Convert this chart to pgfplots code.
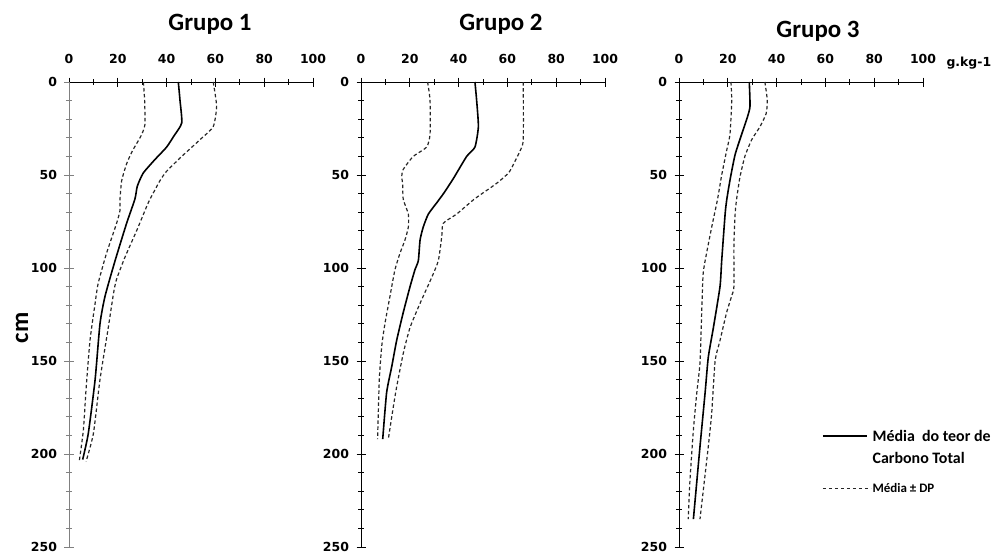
\documentclass[border=0pt]{standalone}
\usepackage{pgfplots}
\pgfplotsset{compat=1.18}
\usepackage{fontspec}
\setmainfont{DejaVu Sans}
\newfontfamily\calib{Carlito}

% data: depth (cm) vs carbon (g/kg)
\pgfplotstableread{
v d
30.5 0
31 10
31.1 23
29.5 29
26 37
23.6 44
21.6 53
20.9 63
20.9 69
19.5 76
15.4 92
12 108
10.7 119
8.6 139
7 165
5.9 187
4.2 204
}\loA
\pgfplotstableread{
v d
44.8 0
45.5 10
46.2 22
43 29
40 35
35 42
30.4 49
28 56
27 63
23.6 76
18.9 96
14.8 115
12.7 130
10.7 160
7.9 189
5.6 203
}\meA
\pgfplotstableread{
v d
59.1 0
60.5 13
59.1 24
53.7 31
46.2 40
40 48
37.3 53
33.2 63
31.8 67
27.7 80
23 94
19.5 106
18.2 114
16.1 132
12.7 160
10 189
7 204
}\hiA
\pgfplotstableread{
v d
27.3 0
28.3 10
28.3 28
26.9 35
21.4 40
17.3 47
16.7 51
17.1 55
17.3 63
19.4 71
19.4 78
18 85
16 92
13.9 101
11.9 115
9.8 130
8.5 142
7.5 160
6.8 192
}\loB
\pgfplotstableread{
v d
46.7 0
47.4 10
48.1 24
46.7 35
43.3 40
37.8 52
33.8 60
31 65
27.6 71
25.5 78
24.2 85
23.5 96
22.1 101
20.1 110
17.3 124
14.6 139
12.6 153
10.5 167
8.9 192
}\meB
\pgfplotstableread{
v d
66.5 0
66.5 31
65.2 37
61.8 46
60.4 49
57 53
54 56
46.4 63
39.2 71
33.7 76
33.1 83
31.7 96
29 105
24.2 119
20.1 132
17.3 146
14.6 164
13.2 175
11.2 192
}\hiB
\pgfplotstableread{
v d
21.3 0
21.6 10
20.9 28
19.5 37
17.5 50
15.8 63
13.4 78
11.3 92
9.9 103
9.3 124
8.6 151
7.3 167
5.9 187
4.5 214
3.8 235
}\loC
\pgfplotstableread{
v d
28.8 0
29.1 13
28 19
25.7 28
23 39
21 52
19.6 63
18.9 71
17.5 96
16.8 110
14.1 132
12 148
10.7 167
8.6 196
5.9 235
}\meC
\pgfplotstableread{
v d
35.2 0
36.2 10
35.7 17
33.2 24
29.8 31
27 40
25 51
23.6 63
23 71
22.5 88
22.5 110
21.6 115
19.5 124
16.8 139
14.8 150
13.4 178
12 196
8.6 235
}\hiC

\pgfplotsset{
  perfil/.style={
    scale only axis, width=244bp, height=465bp,
    xmin=0, xmax=100, ymin=0, ymax=250, y dir=reverse,
    axis x line*=top, axis y line*=left,
    xtick={0,20,...,100}, minor x tick num=1,
    ytick={0,50,...,250}, minor y tick num=4,
    tick align=center, major tick length=9bp, minor tick length=6bp,
    tick style={black, line width=0.8bp},
    axis line style={line width=0.9bp},
    ticklabel style={font=\fontsize{12.5}{14}\selectfont\bfseries},
    /pgf/number format/assume math mode=true,
    xticklabel style={yshift=10bp},
    yticklabel style={xshift=-4bp},
    clip=false,
  },
  media/.style={black, line width=1.6bp, smooth, tension=0.35},
  dp/.style={black!85, line width=1.2bp, dash pattern=on 3.5bp off 2.5bp, smooth, tension=0.35},
  legmedia/.style={legend image code/.code={\draw[##1] (0bp,4bp) -- (44bp,4bp);}},
  legdp/.style={legend image code/.code={\draw[##1] (0bp,0bp) -- (48bp,0bp);}},
}

\begin{document}
\begin{tikzpicture}
\useasboundingbox (0,0) rectangle (996bp,-552bp);

\begin{axis}[perfil, at={(69bp,-82bp)}, anchor=north west,
  y axis line style={gray, line width=1bp},
  ytick style={gray, line width=1bp}]
\addplot[dp] table[x=v, y=d] {\loA};
\addplot[media] table[x=v, y=d] {\meA};
\addplot[dp] table[x=v, y=d] {\hiA};
\end{axis}

\begin{axis}[perfil, at={(361bp,-82bp)}, anchor=north west]
\addplot[dp] table[x=v, y=d] {\loB};
\addplot[media] table[x=v, y=d] {\meB};
\addplot[dp] table[x=v, y=d] {\hiB};
\end{axis}

\begin{axis}[perfil, at={(679bp,-82bp)}, anchor=north west,
  legend style={at={(axis description cs:0.586,0.262)}, anchor=north west,
    draw=none, fill=none, inner sep=0pt, row sep=27bp,
    nodes={inner sep=1bp, font=\calib\bfseries}},
  legend cell align=left]
\addplot[media, legmedia] table[x=v, y=d] {\meC};
\addlegendentry{\fontsize{16}{22}\selectfont\begin{tabular}{@{}l@{}}Média\ \ do teor de\\Carbono Total\end{tabular}}
\addplot[dp, legdp] table[x=v, y=d] {\loC};
\addlegendentry{\fontsize{13}{15}\selectfont Média ± DP}
\addplot[dp, forget plot] table[x=v, y=d] {\hiC};
\end{axis}

% titles and labels
\node[font=\calib\bfseries\fontsize{25}{28}\selectfont, anchor=base] at (210bp,-30bp) {Grupo 1};
\node[font=\calib\bfseries\fontsize{25}{28}\selectfont, anchor=base] at (501bp,-30bp) {Grupo 2};
\node[font=\calib\bfseries\fontsize{25}{28}\selectfont, anchor=base] at (818bp,-37bp) {Grupo 3};
\node[font=\calib\bfseries\fontsize{25}{28}\selectfont, rotate=90] at (22bp,-328bp) {cm};
\node[font=\fontsize{12.5}{14}\selectfont\bfseries, anchor=base west] at (943bp,-66bp) {g.kg-1};
\end{tikzpicture}
\end{document}
